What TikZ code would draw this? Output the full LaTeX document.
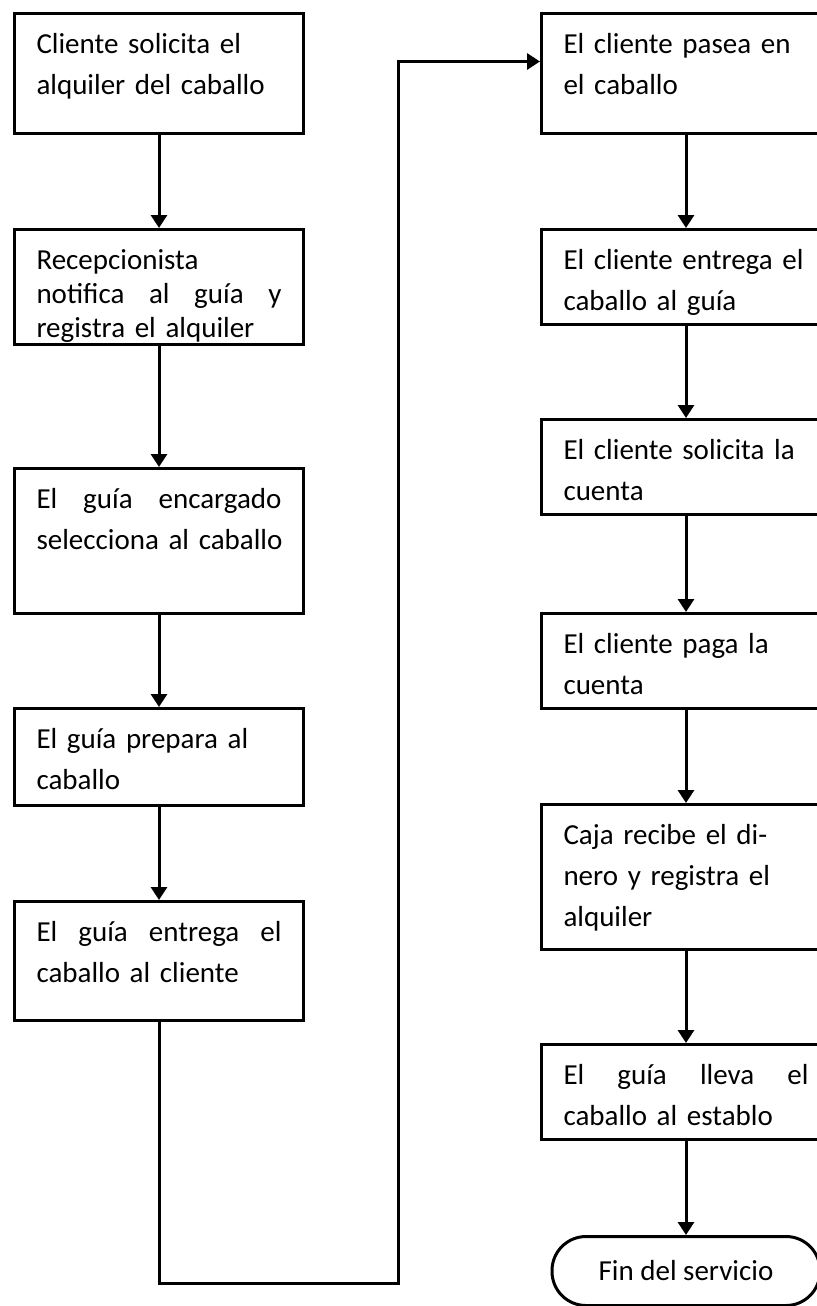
\documentclass[tikz,border=0pt]{standalone}
\usepackage{fontspec}
\setmainfont{Carlito}
\usetikzlibrary{arrows.meta,positioning}

\begin{document}
\begin{tikzpicture}[
    x=0.5pt, y=-0.5pt,
    font=\fontsize{14.5}{20.5}\selectfont,
    node distance=46.5pt,
    caja/.style={draw, line width=1.5pt, text width=122.5pt, align=left, inner xsep=11pt, inner ysep=6pt, text height=14pt},
    terminal/.style={draw, line width=1.5pt, rounded corners=17pt, minimum width=134pt, minimum height=34.5pt},
    flecha/.style={-{Triangle[length=6.5pt, width=8pt]}, line width=1.5pt}
]
\useasboundingbox (0,0) rectangle (817,1306);

% Columna izquierda
\node[caja, text depth=34pt, anchor=north west] (l1) at (13,12) {Cliente solicita el\\ alquiler del caballo};
\node[caja, text depth=31.5pt, below=46.5pt of l1, font=\fontsize{14.5}{17}\selectfont] (l2) {Recepcionista\\ notifica\hfill al\hfill guía\hfill y\\ registra el alquiler};
\node[caja, text depth=46.5pt, below=60.5pt of l2] (l3) {El\hfill guía\hfill encargado\\ \mbox{selecciona al caballo}};
\node[caja, text depth=22.5pt, below=46pt of l3] (l4) {El guía prepara al\\ caballo};
\node[caja, text depth=33.5pt, below=46.5pt of l4] (l5) {El\hfill guía\hfill entrega\hfill el\\ caballo al cliente};

\draw[flecha] (l1.south) -- (l2.north);
\draw[flecha] (l2.south) -- (l3.north);
\draw[flecha] (l3.south) -- (l4.north);
\draw[flecha] (l4.south) -- (l5.north);

% Columna derecha
\node[caja, text depth=34pt, anchor=north west] (r1) at (540,12) {El cliente pasea en\\ el caballo};
\node[caja, text depth=21.5pt, below=46.5pt of r1] (r2) {El cliente entrega el\\ caballo al guía};
\node[caja, text depth=21.5pt, below=46pt of r2] (r3) {El cliente solicita la\\ cuenta};
\node[caja, text depth=21.5pt, below=48pt of r3] (r4) {El cliente paga la\\ cuenta};
\node[caja, text depth=46.5pt, below=46.5pt of r4] (r5) {Caja recibe el di-\\ nero y registra el\\ alquiler};
\node[caja, text depth=21.5pt, below=46pt of r5] (r6) {El\hfill guía\hfill lleva\hfill el\\ caballo al establo};
\node[terminal, below=47pt of r6] (fin) {Fin del servicio};

\draw[flecha] (r1.south) -- (r2.north);
\draw[flecha] (r2.south) -- (r3.north);
\draw[flecha] (r3.south) -- (r4.north);
\draw[flecha] (r4.south) -- (r5.north);
\draw[flecha] (r5.south) -- (r6.north);
\draw[flecha] (r6.south) -- (fin.north);

% Enlace entre columnas
\coordinate (giro) at (398,1283);
\draw[flecha] (l5.south) |- (giro) |- ([yshift=6pt]r1.west);

\end{tikzpicture}
\end{document}
